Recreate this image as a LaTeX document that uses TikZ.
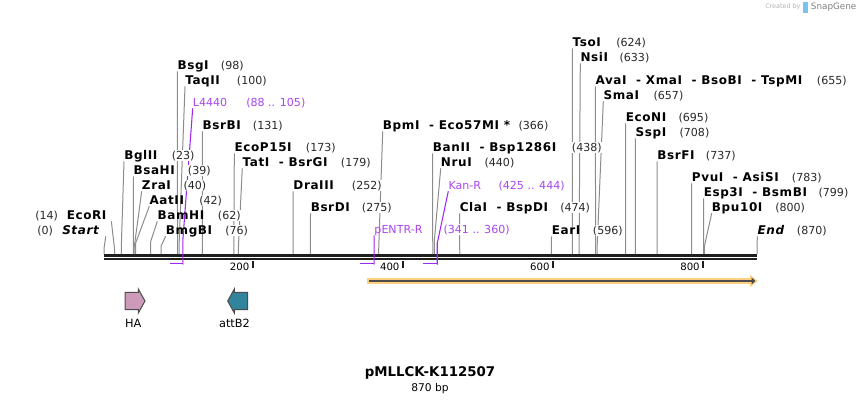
\documentclass[tikz,border=0pt]{standalone}
\usepackage{fontspec}
\setmainfont{DejaVu Sans}
\newfontfamily\enzfont[LetterSpace=5]{DejaVu Sans}
\usepackage{tikz}
\usetikzlibrary{arrows.meta, backgrounds}
\definecolor{sitegray}{RGB}{140, 140, 140}
\definecolor{numgray}{RGB}{40, 40, 40}
\definecolor{primerpurple}{RGB}{160, 40, 240}
\definecolor{primertext}{RGB}{170, 70, 240}
\definecolor{featorange}{RGB}{255, 208, 128}
\definecolor{featdark}{RGB}{75, 75, 75}
\definecolor{hapink}{RGB}{205, 155, 185}
\definecolor{attteal}{RGB}{49, 132, 155}
\definecolor{bbblack}{RGB}{30, 30, 30}
\definecolor{logoblue}{RGB}{120, 195, 240}

\begin{document}
\begin{tikzpicture}[
    x=0.75pt, y=-0.75pt,
    enz/.style={anchor=base west, inner sep=0pt, text depth=1.5pt, font=\enzfont\fontsize{9}{10}\selectfont\bfseries},
    num/.style={anchor=base west, fill=white, inner xsep=0.8pt, inner ysep=0.6pt, xshift=-0.8pt, text=numgray, font=\fontsize{8.3}{10}\selectfont},
    primer/.style={anchor=base west, inner sep=0pt, text depth=1.5pt, text=primertext, font=\fontsize{8.3}{10}\selectfont},
    primernum/.style={num, text=primertext},
    cut/.style={sitegray, line width=0.75pt},
    primerline/.style={primerpurple, line width=0.8pt},
    primerbar/.style={primerpurple, line width=1.3pt},
    backbone/.style={bbblack, line width=1.8pt},
    tick/.style={bbblack, line width=1.4pt},
    ticklabel/.style={anchor=base east, inner sep=0pt, font=\fontsize{7.6}{9}\selectfont},
    feature/.style={draw=featdark, line width=0.75pt}
]
    \useasboundingbox (0,0) rectangle (862,404);

    % Sites on the backbone (bp -> px)
    \foreach \p in {0,14,23,39,40,42,62,76,88,98,100,105,131,173,179,200,252,275,341,360,366,400,425,438,440,444,474,596,600,624,633,655,657,695,708,737,783,799,800,870}
        \coordinate (p\p) at ({104+\p*0.75057},254);

    % Enzymes - left group
    \node[enz] (start) at (62,234) {\itshape Start};
    \node[num] (start-n) at (37,234) {(0)};
    \node[enz] (ecori) at (66.5,219) {EcoRI};
    \node[num] (ecori-n) at (35,219) {(14)};
    \node[enz] (bglii) at (124,159) {BglII};
    \node[num] (bglii-n) at (171.5,159) {(23)};
    \node[enz] (bsahi) at (133.3,174) {BsaHI};
    \node[num] (bsahi-n) at (187.7,174) {(39)};
    \node[enz] (zrai) at (141.7,189) {ZraI};
    \node[num] (zrai-n) at (183.3,189) {(40)};
    \node[enz] (aatii) at (149.3,204) {AatII};
    \node[num] (aatii-n) at (199,204) {(42)};
    \node[enz] (bamhi) at (157.3,219) {BamHI};
    \node[num] (bamhi-n) at (217.7,219) {(62)};
    \node[enz] (bmgbi) at (165.7,234) {BmgBI};
    \node[num] (bmgbi-n) at (225,234) {(76)};
    \node[enz] (bsgi) at (177.3,69) {BsgI};
    \node[num] (bsgi-n) at (220.7,69) {(98)};
    \node[enz] (taqii) at (185,84) {TaqII};
    \node[num] (taqii-n) at (236.7,84) {(100)};
    \node[enz] (bsrbi) at (202.3,129) {BsrBI};
    \node[num] (bsrbi-n) at (252.7,129) {(131)};
    \node[enz] (ecop15i) at (234.3,151) {EcoP15I};
    \node[num] (ecop15i-n) at (305.7,151) {(173)};
    \node[enz] (tati) at (242.3,166) {TatI\ \ - BsrGI};
    \node[num] (tati-n) at (340.7,166) {(179)};
    \node[enz] (draiii) at (293.2,189) {DraIII};
    \node[num] (draiii-n) at (351.7,189) {(252)};
    \node[enz] (bsrdi) at (310.5,211) {BsrDI};
    \node[num] (bsrdi-n) at (361.7,211) {(275)};

    % Enzymes - middle group
    \node[enz] (bpmi) at (382.7,129) {BpmI\ \ - Eco57MI *};
    \node[num] (bpmi-n) at (518.3,129) {(366)};
    \node[enz] (banii) at (432.7,151) {BanII\ \ - Bsp1286I};
    \node[num] (banii-n) at (571.7,151) {(438)};
    \node[enz] (nrui) at (440.7,166) {NruI};
    \node[num] (nrui-n) at (484.3,166) {(440)};
    \node[enz] (clai) at (459.5,211) {ClaI\ \ - BspDI};
    \node[num] (clai-n) at (560,211) {(474)};
    \node[enz] (eari) at (551.5,234) {EarI};
    \node[num] (eari-n) at (592.7,234) {(596)};

    % Enzymes - right group
    \node[enz] (tsoi) at (572.3,46) {TsoI};
    \node[num] (tsoi-n) at (616,46) {(624)};
    \node[enz] (nsii) at (580.3,61) {NsiI};
    \node[num] (nsii-n) at (619.3,61) {(633)};
    \node[enz] (avai) at (595.3,84) {AvaI\ \ - XmaI\ \ - BsoBI\ \ - TspMI};
    \node[num] (avai-n) at (816.7,84) {(655)};
    \node[enz] (smai) at (603.3,99) {SmaI};
    \node[num] (smai-n) at (653.3,99) {(657)};
    \node[enz] (econi) at (625.6,121) {EcoNI};
    \node[num] (econi-n) at (678.3,121) {(695)};
    \node[enz] (sspi) at (635.4,136) {SspI};
    \node[num] (sspi-n) at (679.3,136) {(708)};
    \node[enz] (bsrfi) at (657,159) {BsrFI};
    \node[num] (bsrfi-n) at (705.7,159) {(737)};
    \node[enz] (pvui) at (691.7,181) {PvuI\ \ - AsiSI};
    \node[num] (pvui-n) at (791.7,181) {(783)};
    \node[enz] (esp3i) at (703.5,196) {Esp3I\ \ - BsmBI};
    \node[num] (esp3i-n) at (818.3,196) {(799)};
    \node[enz] (bpu10i) at (711.7,211) {Bpu10I};
    \node[num] (bpu10i-n) at (775,211) {(800)};
    \node[enz] (end) at (757.3,234) {\itshape End};
    \node[num] (end-n) at (796.7,234) {(870)};

    % Primers
    \node[primer] (l4440) at (192.7,106) {L4440};
    \node[primernum] (l4440-n) at (246,106) {(88 .. 105)};
    \node[primer] (pentr) at (374.2,233) {pENTR-R};
    \node[primernum] (pentr-n) at (443.3,233) {(341 .. 360)};
    \node[primer] (kanr) at (448.3,189) {Kan-R};
    \node[primernum] (kanr-n) at (498.3,189) {(425 .. 444)};

    \begin{scope}[on background layer]
    % Backbone
    \draw[backbone] ([yshift=-1.1pt]p0) -- ([yshift=-1.1pt]p870);
    \draw[backbone] ([yshift=-3.9pt]p0) -- ([yshift=-3.9pt]p870);

    % Cut site lines
    \draw[cut] ([xshift=5pt]start.south east) -- ([yshift=4pt]p0) -- (p0);
    \draw[cut] ([xshift=3.5pt]ecori.south east) -- ([yshift=4pt]p14) -- (p14);
    \draw[cut] (bglii.south west) -- ([yshift=4pt]p23) -- (p23);
    \draw[cut] (bsahi.south west) -- ([yshift=4pt]p39) -- (p39);
    \draw[cut] (zrai.south west) -- ([yshift=4pt]p40) -- (p40);
    \draw[cut] (aatii.south west) -- ([yshift=8pt]p42) -- (p42);
    \draw[cut] (bamhi.south west) -- ([yshift=9pt]p62) -- (p62);
    \draw[cut] (bmgbi.south west) -- ([yshift=6pt]p76) -- (p76);
    \draw[cut] (bsgi.south west) -- (p98);
    \draw[cut] (taqii.south west) -- ([yshift=6pt]p100) -- (p100);
    \draw[cut] (bsrbi.south west) -- (p131);
    \draw[cut] (ecop15i.south west) -- (p173);
    \draw[cut] (tati.south west) -- ([yshift=4pt]p179) -- (p179);
    \draw[cut] (draiii.south west) -- (p252);
    \draw[cut] (bsrdi.south west) -- (p275);
    \draw[cut] (bpmi.south west) -- ([yshift=4pt]p366) -- (p366);
    \draw[cut] (banii.south west) -- (p438);
    \draw[cut] (nrui.south west) -- ([yshift=9pt]p440) -- (p440);
    \draw[cut] (clai.south west) -- (p474);
    \draw[cut] (eari.south west) -- (p596);
    \draw[cut] (tsoi.south west) -- (p624);
    \draw[cut] (nsii.south west) -- ([yshift=6pt]p633) -- (p633);
    \draw[cut] (avai.south west) -- (p655);
    \draw[cut] (smai.south west) -- ([yshift=6pt]p657) -- (p657);
    \draw[cut] (econi.south west) -- (p695);
    \draw[cut] (sspi.south west) -- (p708);
    \draw[cut] (bsrfi.south west) -- (p737);
    \draw[cut] (pvui.south west) -- (p783);
    \draw[cut] (esp3i.south west) -- (p799);
    \draw[cut] (bpu10i.south west) -- ([yshift=6pt]p800) -- (p800);
    \draw[cut] (end.south west) -- (p870);

    % Primer lines
    \draw[primerline] (l4440.south west) -- ([yshift=10pt]p105) -- ([yshift=-8pt]p105);
    \draw[primerbar] ([yshift=-7.2pt]p88) -- ([yshift=-7.2pt]p105);
    \draw[primerline] (pentr.south west) -- ([yshift=-8pt]p360);
    \draw[primerbar] ([yshift=-7.2pt]p341) -- ([yshift=-7.2pt]p360);
    \draw[primerline] (kanr.south west) -- ([yshift=8pt]p444) -- ([yshift=-8pt]p444);
    \draw[primerbar] ([yshift=-7.2pt]p425) -- ([yshift=-7.2pt]p444);
    \end{scope}

    % Ticks
    \draw[tick] ([xshift=-0.8pt,yshift=-5.2pt]p200) -- ([xshift=-0.8pt,yshift=-10.5pt]p200);
    \draw[tick] ([xshift=-0.8pt,yshift=-5.2pt]p400) -- ([xshift=-0.8pt,yshift=-10.5pt]p400);
    \draw[tick] ([xshift=-0.8pt,yshift=-5.2pt]p600) -- ([xshift=-0.8pt,yshift=-10.5pt]p600);
    \draw[tick] ([xshift=-0.8pt,yshift=-5.2pt]p800) -- ([xshift=-0.8pt,yshift=-10.5pt]p800);
    \node[ticklabel] (t200) at ([xshift=-3.4pt,yshift=-12.5pt]p200) {200};
    \node[ticklabel] (t400) at ([xshift=-3.4pt,yshift=-12.5pt]p400) {400};
    \node[ticklabel] (t600) at ([xshift=-3.4pt,yshift=-12.5pt]p600) {600};
    \node[ticklabel] (t800) at ([xshift=-3.4pt,yshift=-12.5pt]p800) {800};

    % Orange feature
    \fill[featorange] (367,278.3) rectangle (750,283.7);
    \fill[featorange] (750,275) -- (757.8,281) -- (750,287) -- cycle;
    \draw[featdark, line width=1.6pt, -{Triangle[length=3pt,width=5pt]}] (369,281) -- (755.5,281);

    % Features below
    \draw[feature, fill=hapink] (125,292.3) -- (138.3,292.3) -- (138.3,289) -- (145,301) -- (138.3,313) -- (138.3,309.7) -- (125,309.7) -- cycle;
    \draw[feature, fill=attteal] (247.7,292.3) -- (234.3,292.3) -- (234.3,289) -- (227.7,301) -- (234.3,313) -- (234.3,309.7) -- (247.7,309.7) -- cycle;
    \node[font=\fontsize{8.5}{10}\selectfont, inner sep=0pt] (ha) at (133.3,323) {HA};
    \node[font=\fontsize{8.5}{10}\selectfont, inner sep=0pt] (attb2) at (234.5,323) {attB2};

    % Title
    \node[font=\fontsize{10}{12}\selectfont\bfseries, inner sep=0pt] (title) at (430,373.3) {pMLLCK-K112507};
    \node[font=\fontsize{8}{10}\selectfont, inner sep=0pt] (size) at (430,388.3) {870 bp};

    % Credit
    \node[anchor=west, inner sep=0pt, text=black!30, font=\fontsize{4.8}{6}\selectfont] (credit) at (765,7) {Created by};
    \fill[logoblue] (803,1.5) rectangle (807.5,12.5);
    \node[anchor=west, inner sep=0pt, text=black!50, font=\fontsize{6.6}{8}\selectfont] (snapgene) at (810.7,7) {SnapGene};
\end{tikzpicture}
\end{document}
